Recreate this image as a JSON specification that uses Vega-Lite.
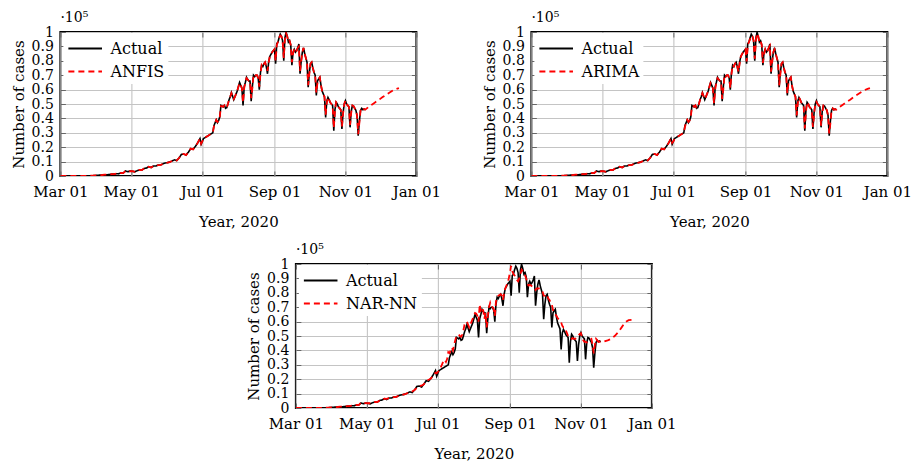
{
  "$schema": "https://vega.github.io/schema/vega-lite/v6.json",
  "background": "white",
  "padding": {"left": 10, "top": 10, "right": 0, "bottom": 0},
  "config": {
    "font": "DejaVu Serif",
    "view": {"stroke": "black", "strokeWidth": 2},
    "axis": {
      "labelFont": "DejaVu Serif", "labelFontSize": 15, "labelColor": "black", "labelOverlap": false, "labelFlush": false,
      "titleFont": "DejaVu Serif", "titleFontSize": 15, "titleFontWeight": "normal", "titleColor": "black",
      "gridColor": "#c4c4c4", "gridWidth": 1.1, "domain": false,
      "ticks": true, "tickSize": -5, "tickColor": "#666666", "tickWidth": 1
    },
    "axisY": {"labelFontSize": 14},
    "legend": {
      "labelFont": "DejaVu Serif", "labelFontSize": 16, "labelColor": "black"
    },
    "title": {"font": "DejaVu Serif", "fontSize": 14, "fontWeight": "normal", "color": "black"}
  },
  "datasets": {
    "covid": [
      {"d":"2020/03/01","Actual":0,"ANFIS":0,"ARIMA":0,"NAR-NN":0},
      {"d":"2020/03/03","Actual":2,"ANFIS":2,"ARIMA":2,"NAR-NN":2},
      {"d":"2020/03/05","Actual":3,"ANFIS":3,"ARIMA":3,"NAR-NN":3},
      {"d":"2020/03/07","Actual":5,"ANFIS":5,"ARIMA":5,"NAR-NN":5},
      {"d":"2020/03/09","Actual":10,"ANFIS":10,"ARIMA":10,"NAR-NN":10},
      {"d":"2020/03/11","Actual":12,"ANFIS":12,"ARIMA":12,"NAR-NN":12},
      {"d":"2020/03/13","Actual":15,"ANFIS":15,"ARIMA":15,"NAR-NN":15},
      {"d":"2020/03/15","Actual":25,"ANFIS":25,"ARIMA":25,"NAR-NN":25},
      {"d":"2020/03/17","Actual":30,"ANFIS":30,"ARIMA":30,"NAR-NN":30},
      {"d":"2020/03/19","Actual":60,"ANFIS":60,"ARIMA":60,"NAR-NN":60},
      {"d":"2020/03/21","Actual":80,"ANFIS":80,"ARIMA":80,"NAR-NN":80},
      {"d":"2020/03/23","Actual":100,"ANFIS":100,"ARIMA":100,"NAR-NN":100},
      {"d":"2020/03/25","Actual":120,"ANFIS":120,"ARIMA":120,"NAR-NN":120},
      {"d":"2020/03/27","Actual":200,"ANFIS":200,"ARIMA":200,"NAR-NN":200},
      {"d":"2020/03/29","Actual":220,"ANFIS":220,"ARIMA":220,"NAR-NN":220},
      {"d":"2020/03/31","Actual":350,"ANFIS":350,"ARIMA":350,"NAR-NN":350},
      {"d":"2020/04/02","Actual":500,"ANFIS":500,"ARIMA":500,"NAR-NN":500},
      {"d":"2020/04/04","Actual":600,"ANFIS":600,"ARIMA":600,"NAR-NN":600},
      {"d":"2020/04/06","Actual":700,"ANFIS":700,"ARIMA":700,"NAR-NN":700},
      {"d":"2020/04/08","Actual":900,"ANFIS":900,"ARIMA":900,"NAR-NN":900},
      {"d":"2020/04/10","Actual":900,"ANFIS":900,"ARIMA":900,"NAR-NN":900},
      {"d":"2020/04/12","Actual":1000,"ANFIS":1000,"ARIMA":1000,"NAR-NN":1000},
      {"d":"2020/04/14","Actual":1300,"ANFIS":1300,"ARIMA":1300,"NAR-NN":1300},
      {"d":"2020/04/16","Actual":1300,"ANFIS":1300,"ARIMA":1300,"NAR-NN":1300},
      {"d":"2020/04/18","Actual":1600,"ANFIS":1600,"ARIMA":1600,"NAR-NN":1600},
      {"d":"2020/04/20","Actual":1500,"ANFIS":1500,"ARIMA":1500,"NAR-NN":1500},
      {"d":"2020/04/22","Actual":2100,"ANFIS":2100,"ARIMA":2100,"NAR-NN":2100},
      {"d":"2020/04/24","Actual":2000,"ANFIS":2000,"ARIMA":2000,"NAR-NN":2000},
      {"d":"2020/04/26","Actual":3500,"ANFIS":3500,"ARIMA":3500,"NAR-NN":3800},
      {"d":"2020/04/28","Actual":3000,"ANFIS":3000,"ARIMA":3000,"NAR-NN":3300},
      {"d":"2020/04/30","Actual":3400,"ANFIS":3400,"ARIMA":3400,"NAR-NN":3400},
      {"d":"2020/05/02","Actual":3300,"ANFIS":3300,"ARIMA":3300,"NAR-NN":3300},
      {"d":"2020/05/04","Actual":2900,"ANFIS":2900,"ARIMA":2900,"NAR-NN":3300},
      {"d":"2020/05/06","Actual":3700,"ANFIS":3700,"ARIMA":3700,"NAR-NN":3700},
      {"d":"2020/05/08","Actual":4200,"ANFIS":4200,"ARIMA":4200,"NAR-NN":4200},
      {"d":"2020/05/10","Actual":4100,"ANFIS":4100,"ARIMA":4100,"NAR-NN":4100},
      {"d":"2020/05/12","Actual":5200,"ANFIS":5200,"ARIMA":5200,"NAR-NN":5200},
      {"d":"2020/05/14","Actual":5500,"ANFIS":5500,"ARIMA":5500,"NAR-NN":5500},
      {"d":"2020/05/16","Actual":6500,"ANFIS":6500,"ARIMA":6500,"NAR-NN":6500},
      {"d":"2020/05/18","Actual":5900,"ANFIS":5900,"ARIMA":5900,"NAR-NN":6300},
      {"d":"2020/05/20","Actual":6900,"ANFIS":6900,"ARIMA":6900,"NAR-NN":6900},
      {"d":"2020/05/22","Actual":6900,"ANFIS":6900,"ARIMA":6900,"NAR-NN":6900},
      {"d":"2020/05/24","Actual":7600,"ANFIS":7600,"ARIMA":7600,"NAR-NN":7600},
      {"d":"2020/05/26","Actual":7600,"ANFIS":7600,"ARIMA":7600,"NAR-NN":7600},
      {"d":"2020/05/28","Actual":8400,"ANFIS":8400,"ARIMA":8400,"NAR-NN":8400},
      {"d":"2020/05/30","Actual":9000,"ANFIS":9000,"ARIMA":9000,"NAR-NN":9000},
      {"d":"2020/06/01","Actual":9300,"ANFIS":9300,"ARIMA":9300,"NAR-NN":9300},
      {"d":"2020/06/03","Actual":9700,"ANFIS":9700,"ARIMA":9700,"NAR-NN":9700},
      {"d":"2020/06/05","Actual":10400,"ANFIS":10400,"ARIMA":10400,"NAR-NN":10400},
      {"d":"2020/06/07","Actual":11200,"ANFIS":11200,"ARIMA":11200,"NAR-NN":11200},
      {"d":"2020/06/09","Actual":10700,"ANFIS":10700,"ARIMA":10700,"NAR-NN":11500},
      {"d":"2020/06/11","Actual":12500,"ANFIS":12500,"ARIMA":12500,"NAR-NN":12500},
      {"d":"2020/06/13","Actual":15000,"ANFIS":15000,"ARIMA":15000,"NAR-NN":14000},
      {"d":"2020/06/15","Actual":15300,"ANFIS":15300,"ARIMA":15300,"NAR-NN":15300},
      {"d":"2020/06/17","Actual":14500,"ANFIS":14500,"ARIMA":14500,"NAR-NN":15500},
      {"d":"2020/06/19","Actual":16500,"ANFIS":16500,"ARIMA":16500,"NAR-NN":16500},
      {"d":"2020/06/21","Actual":19000,"ANFIS":19000,"ARIMA":19000,"NAR-NN":19000},
      {"d":"2020/06/23","Actual":18500,"ANFIS":18500,"ARIMA":18500,"NAR-NN":19500},
      {"d":"2020/06/25","Actual":20500,"ANFIS":20500,"ARIMA":20500,"NAR-NN":20500},
      {"d":"2020/06/27","Actual":23000,"ANFIS":23000,"ARIMA":23000,"NAR-NN":22500},
      {"d":"2020/06/29","Actual":26000,"ANFIS":26000,"ARIMA":26000,"NAR-NN":24500},
      {"d":"2020/06/30","Actual":22000,"ANFIS":22500,"ARIMA":23000,"NAR-NN":24000},
      {"d":"2020/07/01","Actual":24000,"ANFIS":24000,"ARIMA":24000,"NAR-NN":25000},
      {"d":"2020/07/02","Actual":26000,"ANFIS":26000,"ARIMA":25500,"NAR-NN":26000},
      {"d":"2020/07/03","Actual":26500,"ANFIS":26500,"ARIMA":26500,"NAR-NN":27500},
      {"d":"2020/07/04","Actual":27000,"ANFIS":27000,"ARIMA":27000,"NAR-NN":29000},
      {"d":"2020/07/05","Actual":27500,"ANFIS":27500,"ARIMA":27500,"NAR-NN":31000},
      {"d":"2020/07/06","Actual":28000,"ANFIS":28000,"ARIMA":28000,"NAR-NN":33000},
      {"d":"2020/07/07","Actual":28500,"ANFIS":28500,"ARIMA":28500,"NAR-NN":33500},
      {"d":"2020/07/08","Actual":29000,"ANFIS":29000,"ARIMA":29000,"NAR-NN":32000},
      {"d":"2020/07/09","Actual":29500,"ANFIS":29500,"ARIMA":29500,"NAR-NN":34000},
      {"d":"2020/07/10","Actual":30000,"ANFIS":30000,"ARIMA":30000,"NAR-NN":38800},
      {"d":"2020/07/11","Actual":35000,"ANFIS":34500,"ARIMA":34000,"NAR-NN":38000},
      {"d":"2020/07/12","Actual":37000,"ANFIS":37000,"ARIMA":37000,"NAR-NN":40000},
      {"d":"2020/07/13","Actual":39000,"ANFIS":39000,"ARIMA":39000,"NAR-NN":42000},
      {"d":"2020/07/14","Actual":37000,"ANFIS":37500,"ARIMA":37500,"NAR-NN":40000},
      {"d":"2020/07/15","Actual":38500,"ANFIS":38500,"ARIMA":38500,"NAR-NN":44000},
      {"d":"2020/07/16","Actual":41000,"ANFIS":41000,"ARIMA":41000,"NAR-NN":47000},
      {"d":"2020/07/17","Actual":49000,"ANFIS":48500,"ARIMA":48000,"NAR-NN":50000},
      {"d":"2020/07/18","Actual":48500,"ANFIS":48500,"ARIMA":48500,"NAR-NN":50500},
      {"d":"2020/07/19","Actual":48000,"ANFIS":48000,"ARIMA":48000,"NAR-NN":51000},
      {"d":"2020/07/20","Actual":49000,"ANFIS":49000,"ARIMA":49000,"NAR-NN":50000},
      {"d":"2020/07/21","Actual":47000,"ANFIS":47500,"ARIMA":47500,"NAR-NN":49500},
      {"d":"2020/07/22","Actual":47500,"ANFIS":47500,"ARIMA":47500,"NAR-NN":51000},
      {"d":"2020/07/23","Actual":50000,"ANFIS":50000,"ARIMA":50000,"NAR-NN":54000},
      {"d":"2020/07/24","Actual":53000,"ANFIS":53000,"ARIMA":53000,"NAR-NN":58000},
      {"d":"2020/07/25","Actual":55000,"ANFIS":55000,"ARIMA":55000,"NAR-NN":59000},
      {"d":"2020/07/26","Actual":58000,"ANFIS":57500,"ARIMA":57500,"NAR-NN":60000},
      {"d":"2020/07/27","Actual":55500,"ANFIS":55500,"ARIMA":55500,"NAR-NN":58000},
      {"d":"2020/07/28","Actual":53000,"ANFIS":53500,"ARIMA":53500,"NAR-NN":56000},
      {"d":"2020/07/29","Actual":55000,"ANFIS":55000,"ARIMA":55000,"NAR-NN":58000},
      {"d":"2020/07/30","Actual":57000,"ANFIS":57000,"ARIMA":57000,"NAR-NN":60000},
      {"d":"2020/07/31","Actual":59000,"ANFIS":59000,"ARIMA":59000,"NAR-NN":62000},
      {"d":"2020/08/01","Actual":62000,"ANFIS":62000,"ARIMA":62000,"NAR-NN":64000},
      {"d":"2020/08/02","Actual":65000,"ANFIS":64500,"ARIMA":64500,"NAR-NN":66000},
      {"d":"2020/08/03","Actual":63000,"ANFIS":63000,"ARIMA":63000,"NAR-NN":65500},
      {"d":"2020/08/04","Actual":61000,"ANFIS":61000,"ARIMA":61000,"NAR-NN":64000},
      {"d":"2020/08/05","Actual":49000,"ANFIS":51000,"ARIMA":50500,"NAR-NN":60000},
      {"d":"2020/08/06","Actual":62000,"ANFIS":61000,"ARIMA":60000,"NAR-NN":72000},
      {"d":"2020/08/07","Actual":65000,"ANFIS":65000,"ARIMA":65000,"NAR-NN":66000},
      {"d":"2020/08/08","Actual":68500,"ANFIS":68000,"ARIMA":68000,"NAR-NN":68000},
      {"d":"2020/08/09","Actual":67000,"ANFIS":67000,"ARIMA":67000,"NAR-NN":68000},
      {"d":"2020/08/10","Actual":66000,"ANFIS":66000,"ARIMA":66000,"NAR-NN":62000},
      {"d":"2020/08/11","Actual":66000,"ANFIS":66000,"ARIMA":66000,"NAR-NN":66000},
      {"d":"2020/08/12","Actual":52000,"ANFIS":54000,"ARIMA":53500,"NAR-NN":56000},
      {"d":"2020/08/13","Actual":62000,"ANFIS":61000,"ARIMA":60500,"NAR-NN":64000},
      {"d":"2020/08/14","Actual":70000,"ANFIS":70000,"ARIMA":70000,"NAR-NN":70000},
      {"d":"2020/08/15","Actual":69000,"ANFIS":69000,"ARIMA":69000,"NAR-NN":73000},
      {"d":"2020/08/16","Actual":70000,"ANFIS":70000,"ARIMA":70000,"NAR-NN":70000},
      {"d":"2020/08/17","Actual":70000,"ANFIS":70000,"ARIMA":70000,"NAR-NN":70000},
      {"d":"2020/08/18","Actual":68000,"ANFIS":68000,"ARIMA":68000,"NAR-NN":69000},
      {"d":"2020/08/19","Actual":60000,"ANFIS":62000,"ARIMA":61000,"NAR-NN":64000},
      {"d":"2020/08/20","Actual":72000,"ANFIS":71000,"ARIMA":70500,"NAR-NN":74000},
      {"d":"2020/08/21","Actual":77000,"ANFIS":77000,"ARIMA":77000,"NAR-NN":77000},
      {"d":"2020/08/22","Actual":76000,"ANFIS":76000,"ARIMA":76000,"NAR-NN":78000},
      {"d":"2020/08/23","Actual":78000,"ANFIS":78000,"ARIMA":78000,"NAR-NN":78500},
      {"d":"2020/08/24","Actual":79000,"ANFIS":79000,"ARIMA":79000,"NAR-NN":79000},
      {"d":"2020/08/25","Actual":76000,"ANFIS":76000,"ARIMA":76000,"NAR-NN":78000},
      {"d":"2020/08/26","Actual":71000,"ANFIS":73000,"ARIMA":72500,"NAR-NN":75000},
      {"d":"2020/08/27","Actual":79000,"ANFIS":78500,"ARIMA":78000,"NAR-NN":80000},
      {"d":"2020/08/28","Actual":83000,"ANFIS":83000,"ARIMA":83000,"NAR-NN":83000},
      {"d":"2020/08/29","Actual":84500,"ANFIS":84500,"ARIMA":84500,"NAR-NN":85000},
      {"d":"2020/08/30","Actual":86000,"ANFIS":86000,"ARIMA":86000,"NAR-NN":87000},
      {"d":"2020/08/31","Actual":87000,"ANFIS":87000,"ARIMA":87000,"NAR-NN":90000},
      {"d":"2020/09/01","Actual":88000,"ANFIS":88000,"ARIMA":88000,"NAR-NN":94000},
      {"d":"2020/09/02","Actual":78000,"ANFIS":80000,"ARIMA":79500,"NAR-NN":98600},
      {"d":"2020/09/03","Actual":92000,"ANFIS":91000,"ARIMA":90500,"NAR-NN":95000},
      {"d":"2020/09/04","Actual":93000,"ANFIS":93000,"ARIMA":93000,"NAR-NN":93000},
      {"d":"2020/09/05","Actual":96000,"ANFIS":96000,"ARIMA":95000,"NAR-NN":92000},
      {"d":"2020/09/06","Actual":98500,"ANFIS":97500,"ARIMA":97500,"NAR-NN":90000},
      {"d":"2020/09/07","Actual":97000,"ANFIS":97000,"ARIMA":97000,"NAR-NN":89000},
      {"d":"2020/09/08","Actual":94000,"ANFIS":94000,"ARIMA":94000,"NAR-NN":88000},
      {"d":"2020/09/09","Actual":80000,"ANFIS":82000,"ARIMA":81500,"NAR-NN":90000},
      {"d":"2020/09/10","Actual":96000,"ANFIS":95000,"ARIMA":94500,"NAR-NN":93000},
      {"d":"2020/09/11","Actual":99800,"ANFIS":99000,"ARIMA":99000,"NAR-NN":96000},
      {"d":"2020/09/12","Actual":97000,"ANFIS":97000,"ARIMA":97000,"NAR-NN":95000},
      {"d":"2020/09/13","Actual":93000,"ANFIS":93000,"ARIMA":93000,"NAR-NN":93000},
      {"d":"2020/09/14","Actual":94000,"ANFIS":94000,"ARIMA":94000,"NAR-NN":92000},
      {"d":"2020/09/15","Actual":91000,"ANFIS":91000,"ARIMA":91000,"NAR-NN":90000},
      {"d":"2020/09/16","Actual":77000,"ANFIS":79000,"ARIMA":78500,"NAR-NN":86000},
      {"d":"2020/09/17","Actual":86000,"ANFIS":85000,"ARIMA":84500,"NAR-NN":85000},
      {"d":"2020/09/18","Actual":88000,"ANFIS":88000,"ARIMA":88000,"NAR-NN":85500},
      {"d":"2020/09/19","Actual":86000,"ANFIS":86000,"ARIMA":86000,"NAR-NN":85000},
      {"d":"2020/09/20","Actual":87000,"ANFIS":87000,"ARIMA":87000,"NAR-NN":84500},
      {"d":"2020/09/21","Actual":89000,"ANFIS":89000,"ARIMA":89000,"NAR-NN":84000},
      {"d":"2020/09/22","Actual":91700,"ANFIS":90000,"ARIMA":90500,"NAR-NN":83700},
      {"d":"2020/09/23","Actual":71000,"ANFIS":73000,"ARIMA":72500,"NAR-NN":82000},
      {"d":"2020/09/24","Actual":80000,"ANFIS":79500,"ARIMA":79000,"NAR-NN":83000},
      {"d":"2020/09/25","Actual":86000,"ANFIS":86000,"ARIMA":86000,"NAR-NN":83000},
      {"d":"2020/09/26","Actual":89000,"ANFIS":89000,"ARIMA":88000,"NAR-NN":83000},
      {"d":"2020/09/27","Actual":85000,"ANFIS":85000,"ARIMA":85000,"NAR-NN":82500},
      {"d":"2020/09/28","Actual":82000,"ANFIS":82000,"ARIMA":82000,"NAR-NN":82000},
      {"d":"2020/09/29","Actual":79000,"ANFIS":79000,"ARIMA":79000,"NAR-NN":81000},
      {"d":"2020/09/30","Actual":61600,"ANFIS":63000,"ARIMA":63000,"NAR-NN":78000},
      {"d":"2020/10/01","Actual":72000,"ANFIS":71000,"ARIMA":70500,"NAR-NN":78000},
      {"d":"2020/10/02","Actual":78000,"ANFIS":78000,"ARIMA":78000,"NAR-NN":79000},
      {"d":"2020/10/03","Actual":79000,"ANFIS":79000,"ARIMA":79000,"NAR-NN":78000},
      {"d":"2020/10/04","Actual":75000,"ANFIS":75000,"ARIMA":75000,"NAR-NN":76000},
      {"d":"2020/10/05","Actual":72000,"ANFIS":72000,"ARIMA":72000,"NAR-NN":75000},
      {"d":"2020/10/06","Actual":70000,"ANFIS":70000,"ARIMA":70000,"NAR-NN":73000},
      {"d":"2020/10/07","Actual":56000,"ANFIS":58000,"ARIMA":57500,"NAR-NN":72000},
      {"d":"2020/10/08","Actual":66000,"ANFIS":65000,"ARIMA":64500,"NAR-NN":68000},
      {"d":"2020/10/09","Actual":67400,"ANFIS":67400,"ARIMA":67400,"NAR-NN":66000},
      {"d":"2020/10/10","Actual":68500,"ANFIS":68500,"ARIMA":68500,"NAR-NN":65000},
      {"d":"2020/10/11","Actual":63000,"ANFIS":63000,"ARIMA":63000,"NAR-NN":64000},
      {"d":"2020/10/12","Actual":59000,"ANFIS":59000,"ARIMA":59000,"NAR-NN":62500},
      {"d":"2020/10/13","Actual":57000,"ANFIS":57000,"ARIMA":57000,"NAR-NN":61500},
      {"d":"2020/10/14","Actual":55000,"ANFIS":55000,"ARIMA":55000,"NAR-NN":60500},
      {"d":"2020/10/15","Actual":40700,"ANFIS":42500,"ARIMA":42000,"NAR-NN":59500},
      {"d":"2020/10/16","Actual":52000,"ANFIS":51000,"ARIMA":50500,"NAR-NN":57000},
      {"d":"2020/10/17","Actual":54600,"ANFIS":54600,"ARIMA":54600,"NAR-NN":56000},
      {"d":"2020/10/18","Actual":53000,"ANFIS":53000,"ARIMA":53000,"NAR-NN":56000},
      {"d":"2020/10/19","Actual":51000,"ANFIS":51000,"ARIMA":51000,"NAR-NN":54000},
      {"d":"2020/10/20","Actual":50000,"ANFIS":50000,"ARIMA":50000,"NAR-NN":52000},
      {"d":"2020/10/21","Actual":49000,"ANFIS":49000,"ARIMA":49000,"NAR-NN":50000},
      {"d":"2020/10/22","Actual":31500,"ANFIS":33500,"ARIMA":33000,"NAR-NN":49000},
      {"d":"2020/10/23","Actual":46000,"ANFIS":45000,"ARIMA":44500,"NAR-NN":48000},
      {"d":"2020/10/24","Actual":51200,"ANFIS":51200,"ARIMA":51200,"NAR-NN":48000},
      {"d":"2020/10/25","Actual":50000,"ANFIS":50000,"ARIMA":50000,"NAR-NN":48500},
      {"d":"2020/10/26","Actual":48000,"ANFIS":48000,"ARIMA":48000,"NAR-NN":48000},
      {"d":"2020/10/27","Actual":47000,"ANFIS":47000,"ARIMA":47000,"NAR-NN":48000},
      {"d":"2020/10/28","Actual":46000,"ANFIS":46000,"ARIMA":46000,"NAR-NN":48500},
      {"d":"2020/10/29","Actual":32600,"ANFIS":34500,"ARIMA":34000,"NAR-NN":49000},
      {"d":"2020/10/30","Actual":44000,"ANFIS":43500,"ARIMA":43000,"NAR-NN":50500},
      {"d":"2020/10/31","Actual":50000,"ANFIS":50000,"ARIMA":50000,"NAR-NN":51500},
      {"d":"2020/11/01","Actual":52300,"ANFIS":52300,"ARIMA":51500,"NAR-NN":52000},
      {"d":"2020/11/02","Actual":50000,"ANFIS":50000,"ARIMA":50000,"NAR-NN":49000},
      {"d":"2020/11/03","Actual":49000,"ANFIS":49000,"ARIMA":49000,"NAR-NN":47000},
      {"d":"2020/11/04","Actual":48000,"ANFIS":48000,"ARIMA":48000,"NAR-NN":46000},
      {"d":"2020/11/05","Actual":33800,"ANFIS":35500,"ARIMA":35000,"NAR-NN":46000},
      {"d":"2020/11/06","Actual":45000,"ANFIS":44000,"ARIMA":43500,"NAR-NN":45500},
      {"d":"2020/11/07","Actual":49000,"ANFIS":49000,"ARIMA":49000,"NAR-NN":46000},
      {"d":"2020/11/08","Actual":48500,"ANFIS":48500,"ARIMA":48500,"NAR-NN":47000},
      {"d":"2020/11/09","Actual":47000,"ANFIS":47000,"ARIMA":47000,"NAR-NN":47500},
      {"d":"2020/11/10","Actual":45600,"ANFIS":45600,"ARIMA":45600,"NAR-NN":48000},
      {"d":"2020/11/11","Actual":42000,"ANFIS":42000,"ARIMA":42000,"NAR-NN":44000},
      {"d":"2020/11/12","Actual":28000,"ANFIS":29000,"ARIMA":29500,"NAR-NN":38000},
      {"d":"2020/11/13","Actual":38000,"ANFIS":37000,"ARIMA":36500,"NAR-NN":44000},
      {"d":"2020/11/14","Actual":45500,"ANFIS":45500,"ARIMA":45500,"NAR-NN":48000},
      {"d":"2020/11/15","Actual":47000,"ANFIS":47000,"ARIMA":47000,"NAR-NN":47000},
      {"d":"2020/11/16","Actual":46000,"ANFIS":46000,"ARIMA":46000,"NAR-NN":46000},
      {"d":"2020/11/17","Actual":46500,"ANFIS":46500,"ARIMA":46500,"NAR-NN":46000},
      {"d":"2020/11/18","Actual":46000,"ANFIS":46000,"ARIMA":46000,"NAR-NN":46000},
      {"d":"2020/11/21","ANFIS":48000,"ARIMA":48000,"NAR-NN":46200},
      {"d":"2020/11/24","ANFIS":49700,"ARIMA":49700,"NAR-NN":47000},
      {"d":"2020/11/27","ANFIS":51400,"ARIMA":51400,"NAR-NN":48000},
      {"d":"2020/11/30","ANFIS":53000,"ARIMA":53000,"NAR-NN":50000},
      {"d":"2020/12/03","ANFIS":54800,"ARIMA":54800,"NAR-NN":52600},
      {"d":"2020/12/06","ANFIS":56400,"ARIMA":56400,"NAR-NN":56000},
      {"d":"2020/12/09","ANFIS":58000,"ARIMA":58000,"NAR-NN":59500},
      {"d":"2020/12/12","ANFIS":59500,"ARIMA":59500,"NAR-NN":61000},
      {"d":"2020/12/15","ANFIS":60500,"ARIMA":60500,"NAR-NN":61200},
      {"d":"2020/12/17","ANFIS":61000,"ARIMA":61000,"NAR-NN":61000}
    ]
  },
  "vconcat": [
    {
      "hconcat": [
        {
          "width": 356, "height": 144,
          "title": {"text": "·10⁵", "anchor": "start", "frame": "group", "offset": 0},
          "data": {"name": "covid"},
          "transform": [{"fold": ["Actual", "ANFIS"], "as": ["series", "cases"]}],
          "encoding": {
            "x": {"field": "d", "type": "temporal",
              "scale": {"domain": [{"year": 2020, "month": 3, "date": 1}, {"year": 2021, "month": 1, "date": 1}]},
              "axis": {"values": [{"year": 2020, "month": 3, "date": 1}, {"year": 2020, "month": 5, "date": 1}, {"year": 2020, "month": 7, "date": 1}, {"year": 2020, "month": 9, "date": 1}, {"year": 2020, "month": 11, "date": 1}, {"year": 2021, "month": 1, "date": 1}],
                "format": "%b %d", "title": "Year, 2020", "labelPadding": 13, "titlePadding": 15}},
            "y": {"field": "cases", "type": "quantitative",
              "scale": {"domain": [0, 100000], "nice": false},
              "axis": {"values": [0, 10000, 20000, 30000, 40000, 50000, 60000, 70000, 80000, 90000, 100000],
                "labelExpr": "format(datum.value / 100000, '.1~f')", "title": "Number of cases", "labelPadding": 12, "titlePadding": 5}},
            "color": {"field": "series", "type": "nominal",
              "scale": {"domain": ["Actual", "ANFIS"], "range": ["black", "#ff0000"]},
              "legend": {"title": null, "orient": "none", "legendX": 3, "legendY": 1, "padding": 4, "fillColor": "white", "symbolType": "M-1,0H2.2", "symbolSize": 441, "symbolStrokeWidth": 2, "rowPadding": 3, "labelOffset": 20}},
            "strokeDash": {"field": "series", "type": "nominal",
              "scale": {"domain": ["Actual", "ANFIS"], "range": [[1, 0], [6, 4]]},
              "legend": {"title": null, "orient": "none", "legendX": 3, "legendY": 1, "padding": 4, "fillColor": "white", "symbolType": "M-1,0H2.2", "symbolSize": 441, "symbolStrokeWidth": 2, "rowPadding": 3, "labelOffset": 20}}
          },
          "layer": [
            {"transform": [{"filter": "datum.series === 'Actual'"}], "mark": {"type": "line", "strokeWidth": 1.6, "clip": true}},
            {"transform": [{"filter": "datum.series !== 'Actual'"}], "mark": {"type": "line", "strokeWidth": 1.8, "clip": true},
              "encoding": {
                "x": {"field": "d", "type": "temporal",
                  "axis": {"orient": "top", "labels": false, "title": null, "grid": false,
                    "values": [{"year": 2020, "month": 3, "date": 1}, {"year": 2020, "month": 5, "date": 1}, {"year": 2020, "month": 7, "date": 1}, {"year": 2020, "month": 9, "date": 1}, {"year": 2020, "month": 11, "date": 1}, {"year": 2021, "month": 1, "date": 1}]}},
                "y": {"field": "cases", "type": "quantitative",
                  "axis": {"orient": "right", "labels": false, "title": null, "grid": false,
                    "values": [0, 10000, 20000, 30000, 40000, 50000, 60000, 70000, 80000, 90000, 100000]}}
              }}
          ],
          "resolve": {"axis": {"x": "independent", "y": "independent"}}
        },
        {
          "width": 356, "height": 144,
          "title": {"text": "·10⁵", "anchor": "start", "frame": "group", "offset": 0},
          "data": {"name": "covid"},
          "transform": [{"fold": ["Actual", "ARIMA"], "as": ["series", "cases"]}],
          "encoding": {
            "x": {"field": "d", "type": "temporal",
              "scale": {"domain": [{"year": 2020, "month": 3, "date": 1}, {"year": 2021, "month": 1, "date": 1}]},
              "axis": {"values": [{"year": 2020, "month": 3, "date": 1}, {"year": 2020, "month": 5, "date": 1}, {"year": 2020, "month": 7, "date": 1}, {"year": 2020, "month": 9, "date": 1}, {"year": 2020, "month": 11, "date": 1}, {"year": 2021, "month": 1, "date": 1}],
                "format": "%b %d", "title": "Year, 2020", "labelPadding": 13, "titlePadding": 15}},
            "y": {"field": "cases", "type": "quantitative",
              "scale": {"domain": [0, 100000], "nice": false},
              "axis": {"values": [0, 10000, 20000, 30000, 40000, 50000, 60000, 70000, 80000, 90000, 100000],
                "labelExpr": "format(datum.value / 100000, '.1~f')", "title": "Number of cases", "labelPadding": 12, "titlePadding": 5}},
            "color": {"field": "series", "type": "nominal",
              "scale": {"domain": ["Actual", "ARIMA"], "range": ["black", "#ff0000"]},
              "legend": {"title": null, "orient": "none", "legendX": 3, "legendY": 1, "padding": 4, "fillColor": "white", "symbolType": "M-1,0H2.2", "symbolSize": 441, "symbolStrokeWidth": 2, "rowPadding": 3, "labelOffset": 20}},
            "strokeDash": {"field": "series", "type": "nominal",
              "scale": {"domain": ["Actual", "ARIMA"], "range": [[1, 0], [6, 4]]},
              "legend": {"title": null, "orient": "none", "legendX": 3, "legendY": 1, "padding": 4, "fillColor": "white", "symbolType": "M-1,0H2.2", "symbolSize": 441, "symbolStrokeWidth": 2, "rowPadding": 3, "labelOffset": 20}}
          },
          "layer": [
            {"transform": [{"filter": "datum.series === 'Actual'"}], "mark": {"type": "line", "strokeWidth": 1.6, "clip": true}},
            {"transform": [{"filter": "datum.series !== 'Actual'"}], "mark": {"type": "line", "strokeWidth": 1.8, "clip": true},
              "encoding": {
                "x": {"field": "d", "type": "temporal",
                  "axis": {"orient": "top", "labels": false, "title": null, "grid": false,
                    "values": [{"year": 2020, "month": 3, "date": 1}, {"year": 2020, "month": 5, "date": 1}, {"year": 2020, "month": 7, "date": 1}, {"year": 2020, "month": 9, "date": 1}, {"year": 2020, "month": 11, "date": 1}, {"year": 2021, "month": 1, "date": 1}]}},
                "y": {"field": "cases", "type": "quantitative",
                  "axis": {"orient": "right", "labels": false, "title": null, "grid": false,
                    "values": [0, 10000, 20000, 30000, 40000, 50000, 60000, 70000, 80000, 90000, 100000]}}
              }}
          ],
          "resolve": {"axis": {"x": "independent", "y": "independent"}}
        }
      ],
      "spacing": 38,
      "resolve": {"scale": {"color": "independent", "strokeDash": "independent"}}
    },
    {
      "width": 356, "height": 144,
      "title": {"text": "·10⁵", "anchor": "start", "frame": "group", "offset": 0},
      "data": {"name": "covid"},
      "transform": [{"fold": ["Actual", "NAR-NN"], "as": ["series", "cases"]}],
      "encoding": {
        "x": {"field": "d", "type": "temporal",
          "scale": {"domain": [{"year": 2020, "month": 3, "date": 1}, {"year": 2021, "month": 1, "date": 1}]},
          "axis": {"values": [{"year": 2020, "month": 3, "date": 1}, {"year": 2020, "month": 5, "date": 1}, {"year": 2020, "month": 7, "date": 1}, {"year": 2020, "month": 9, "date": 1}, {"year": 2020, "month": 11, "date": 1}, {"year": 2021, "month": 1, "date": 1}],
            "format": "%b %d", "title": "Year, 2020", "labelPadding": 13, "titlePadding": 15}},
        "y": {"field": "cases", "type": "quantitative",
          "scale": {"domain": [0, 100000], "nice": false},
          "axis": {"values": [0, 10000, 20000, 30000, 40000, 50000, 60000, 70000, 80000, 90000, 100000],
            "labelExpr": "format(datum.value / 100000, '.1~f')", "title": "Number of cases", "labelPadding": 12, "titlePadding": 5}},
        "color": {"field": "series", "type": "nominal",
          "scale": {"domain": ["Actual", "NAR-NN"], "range": ["black", "#ff0000"]},
          "legend": {"title": null, "orient": "none", "legendX": 3, "legendY": 1, "padding": 4, "fillColor": "white", "symbolType": "M-1,0H2.2", "symbolSize": 441, "symbolStrokeWidth": 2, "rowPadding": 3, "labelOffset": 20}},
        "strokeDash": {"field": "series", "type": "nominal",
          "scale": {"domain": ["Actual", "NAR-NN"], "range": [[1, 0], [6, 4]]},
          "legend": {"title": null, "orient": "none", "legendX": 3, "legendY": 1, "padding": 4, "fillColor": "white", "symbolType": "M-1,0H2.2", "symbolSize": 441, "symbolStrokeWidth": 2, "rowPadding": 3, "labelOffset": 20}}
      },
      "layer": [
        {"transform": [{"filter": "datum.series === 'Actual'"}], "mark": {"type": "line", "strokeWidth": 1.6, "clip": true}},
        {"transform": [{"filter": "datum.series !== 'Actual'"}], "mark": {"type": "line", "strokeWidth": 1.8, "clip": true},
          "encoding": {
            "x": {"field": "d", "type": "temporal",
              "axis": {"orient": "top", "labels": false, "title": null, "grid": false,
                "values": [{"year": 2020, "month": 3, "date": 1}, {"year": 2020, "month": 5, "date": 1}, {"year": 2020, "month": 7, "date": 1}, {"year": 2020, "month": 9, "date": 1}, {"year": 2020, "month": 11, "date": 1}, {"year": 2021, "month": 1, "date": 1}]}},
            "y": {"field": "cases", "type": "quantitative",
              "axis": {"orient": "right", "labels": false, "title": null, "grid": false,
                "values": [0, 10000, 20000, 30000, 40000, 50000, 60000, 70000, 80000, 90000, 100000]}}
          }}
      ],
      "resolve": {"axis": {"x": "independent", "y": "independent"}}
    }
  ],
  "center": true,
  "spacing": 12,
  "resolve": {"scale": {"color": "independent", "strokeDash": "independent"}}
}
